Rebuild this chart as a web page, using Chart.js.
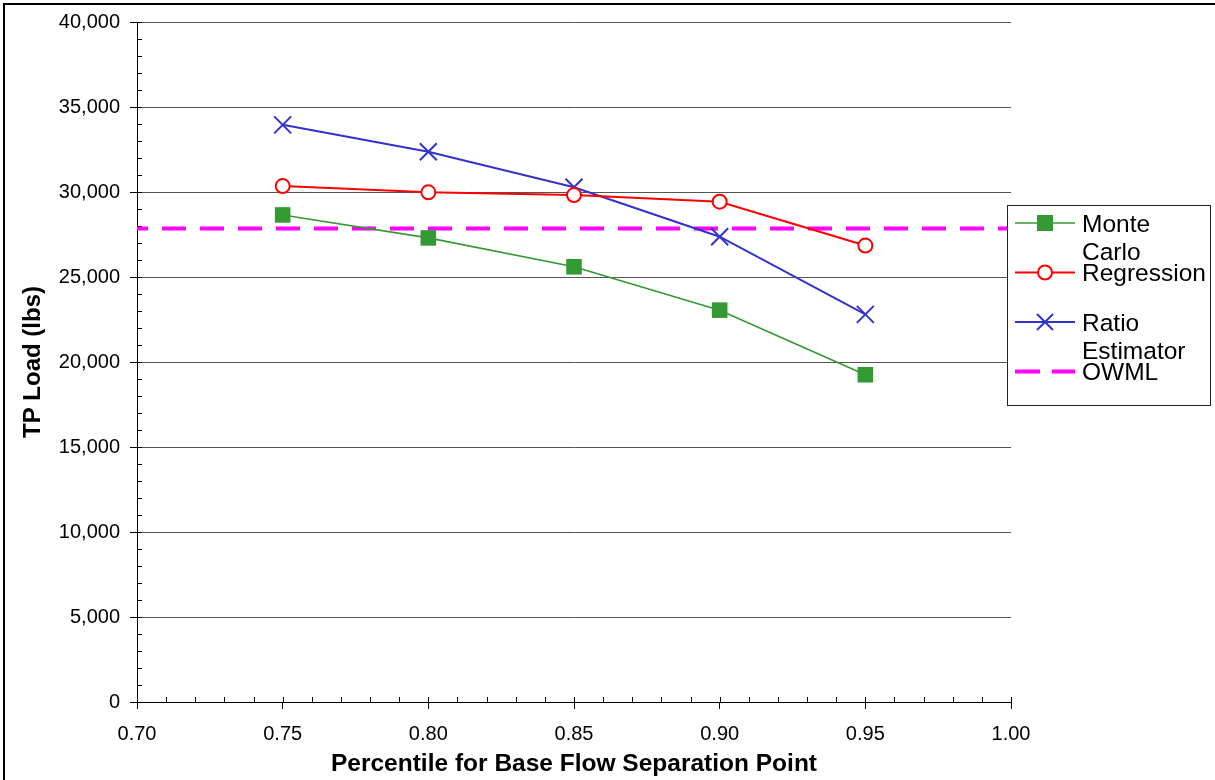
<!DOCTYPE html>
<html>
<head>
<meta charset="utf-8">
<script src="https://cdn.jsdelivr.net/npm/chart.js@4.4.1/dist/chart.umd.min.js"></script>
<style>
  html, body { margin: 0; padding: 0; background: #fff; }
  canvas { display: block; }
</style>
</head>
<body>
<canvas id="c" width="1215" height="780"></canvas>
<script>
// ---- data ----
const xValues = [0.75, 0.80, 0.85, 0.90, 0.95];
const monteCarlo = [28650, 27300, 25600, 23050, 19250];
const regression = [30350, 29980, 29820, 29430, 26850];
const ratioEstimator = [33950, 32370, 30280, 27370, 22800];
const owmlX = [0.70, 1.00];
const owmlY = [27850, 27850];
const seriesNames = [["Monte", "Carlo"], ["Regression"], ["Ratio", "Estimator"], ["OWML"]];
const xTitle = "Percentile for Base Flow Separation Point";
const yTitle = "TP Load (lbs)";
const xMin = 0.70, xMax = 1.00, xStep = 0.05, xMinorStep = 0.01;
const yMin = 0, yMax = 40000, yStep = 5000, yMinorStep = 1000;

const FONT = "'Liberation Sans', Arial, sans-serif";
const toPts = (xs, ys) => xs.map((x, i) => ({x: x, y: ys[i]}));

const GREEN = '#339933', RED = '#FF0000', BLUE = '#3333CC', MAGENTA = '#FF00FF';

const decorPlugin = {
  id: 'decor',
  beforeDatasetsDraw(chart) {
    const ctx = chart.ctx;
    const xs = chart.scales.x, ys = chart.scales.y;
    const a = chart.chartArea;
    ctx.save();
    ctx.strokeStyle = '#000';
    ctx.lineWidth = 1;
    ctx.beginPath();
    for (let v = xMin; v <= xMax + 1e-9; v += xMinorStep) {
      const px = Math.round(xs.getPixelForValue(v)) + 0.5;
      ctx.moveTo(px, a.bottom);
      ctx.lineTo(px, a.bottom - 5);
    }
    for (let v = yMin; v <= yMax + 1e-9; v += yMinorStep) {
      const py = Math.round(ys.getPixelForValue(v)) + 0.5;
      ctx.moveTo(a.left, py);
      ctx.lineTo(a.left + 5, py);
    }
    ctx.stroke();
    ctx.restore();
  },
  afterDraw(chart) {
    const ctx = chart.ctx;
    ctx.save();
    ctx.fillStyle = '#000';
    ctx.fillRect(3, 3, 2, chart.height - 3);
    ctx.fillRect(3, 3, chart.width - 3, 2);

    const bx = 1007.5, by = 205.5, bw = 203, bh = 200;
    ctx.fillStyle = '#fff';
    ctx.fillRect(bx, by, bw, bh);
    ctx.strokeStyle = '#222';
    ctx.lineWidth = 1;
    ctx.strokeRect(bx, by, bw, bh);

    const x0 = 1015, x1 = 1075, xm = 1045;
    chart.data.datasets.forEach((ds, i) => {
      const y = 223 + 49.5 * i;
      ctx.save();
      ctx.strokeStyle = ds.borderColor;
      ctx.lineWidth = ds.borderWidth;
      if (ds.borderDash) ctx.setLineDash([25, 12]);
      ctx.beginPath();
      ctx.moveTo(x0, y);
      ctx.lineTo(x1, y);
      ctx.stroke();
      ctx.setLineDash([]);
      if (ds.pointStyle === 'rect') {
        ctx.fillStyle = ds.pointBackgroundColor;
        ctx.fillRect(xm - 8, y - 8, 16, 16);
      } else if (ds.pointStyle === 'circle') {
        ctx.fillStyle = '#fff';
        ctx.strokeStyle = ds.pointBorderColor;
        ctx.lineWidth = 2;
        ctx.beginPath();
        ctx.arc(xm, y, 7, 0, Math.PI * 2);
        ctx.fill();
        ctx.stroke();
      } else if (ds.pointStyle === 'crossRot') {
        ctx.strokeStyle = ds.pointBorderColor;
        ctx.lineWidth = 2;
        ctx.beginPath();
        ctx.moveTo(xm - 8, y - 8); ctx.lineTo(xm + 8, y + 8);
        ctx.moveTo(xm + 8, y - 8); ctx.lineTo(xm - 8, y + 8);
        ctx.stroke();
      }
      ctx.restore();
      ctx.fillStyle = '#000';
      ctx.font = '24.5px ' + FONT;
      ctx.textBaseline = 'alphabetic';
      ctx.textAlign = 'left';
      seriesNames[i].forEach((line, j) => {
        ctx.fillText(line, 1082, y + 8.6 + 28.5 * j);
      });
    });
    ctx.restore();
  }
};

new Chart(document.getElementById('c'), {
  type: 'scatter',
  data: {
    datasets: [
      {
        label: seriesNames[0].join(' '),
        data: toPts(xValues, monteCarlo),
        showLine: true,
        borderColor: GREEN, borderWidth: 1.6,
        pointStyle: 'rect', pointRadius: 11, pointHoverRadius: 11,
        pointBackgroundColor: GREEN, pointBorderColor: GREEN, pointBorderWidth: 0
      },
      {
        label: seriesNames[1].join(' '),
        data: toPts(xValues, regression),
        showLine: true,
        borderColor: RED, borderWidth: 2,
        pointStyle: 'circle', pointRadius: 7, pointHoverRadius: 7,
        pointBackgroundColor: '#fff', pointBorderColor: RED, pointBorderWidth: 2
      },
      {
        label: seriesNames[2].join(' '),
        data: toPts(xValues, ratioEstimator),
        showLine: true,
        borderColor: BLUE, borderWidth: 2,
        pointStyle: 'crossRot', pointRadius: 12, pointHoverRadius: 12,
        pointBackgroundColor: BLUE, pointBorderColor: BLUE, pointBorderWidth: 2
      },
      {
        label: seriesNames[3].join(' '),
        data: toPts(owmlX, owmlY),
        showLine: true,
        borderColor: MAGENTA, borderWidth: 4,
        borderDash: [24, 14], borderDashOffset: 13,
        pointRadius: 0, pointHoverRadius: 0
      }
    ]
  },
  options: {
    responsive: false,
    animation: false,
    events: [],
    layout: { padding: { left: 0, right: 204, top: 22, bottom: 0 } },
    plugins: {
      legend: { display: false },
      tooltip: { enabled: false }
    },
    scales: {
      x: {
        type: 'linear',
        min: xMin, max: xMax,
        afterFit: s => { s.height = 78; },
        afterBuildTicks: s => {
          const t = [];
          for (let v = xMin; v <= xMax + 1e-9; v += xStep) t.push({value: Math.round(v * 100) / 100});
          s.ticks = t;
        },
        ticks: {
          color: '#000',
          font: { family: FONT, size: 20 },
          padding: 13,
          maxRotation: 0,
          autoSkip: false,
          callback: v => Number(v).toFixed(2)
        },
        grid: {
          drawOnChartArea: false,
          drawTicks: true,
          tickLength: 7,
          tickColor: '#000',
          color: '#000'
        },
        border: { display: true, color: '#000', width: 1 },
        title: {
          display: true,
          text: xTitle,
          color: '#000',
          font: { family: FONT, size: 24.5, weight: 'bold' },
          padding: { top: 0, bottom: 1 }
        }
      },
      y: {
        type: 'linear',
        min: yMin, max: yMax,
        afterFit: s => { s.width = 137; },
        ticks: {
          stepSize: yStep,
          color: '#000',
          font: { family: FONT, size: 20 },
          padding: 10,
          callback: v => Number(v).toLocaleString('en-US')
        },
        grid: {
          drawTicks: true,
          tickLength: 7,
          tickColor: '#000',
          color: '#555',
          lineWidth: 1
        },
        border: { display: true, color: '#000', width: 1 },
        title: {
          display: true,
          text: yTitle,
          color: '#000',
          font: { family: FONT, size: 24, weight: 'bold' },
          padding: { top: 19, bottom: 0 }
        }
      }
    }
  },
  plugins: [decorPlugin]
});
</script>
</body>
</html>
